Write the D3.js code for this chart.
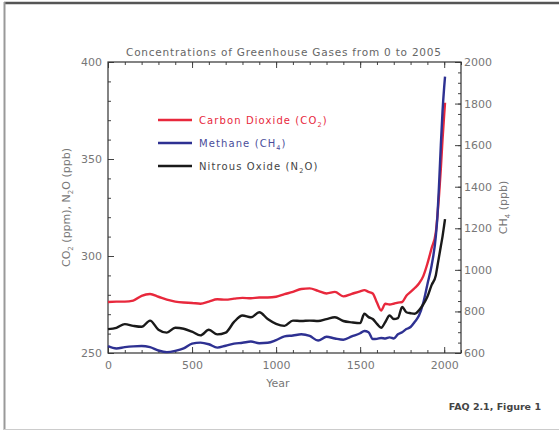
<!DOCTYPE html>
<html>
<head>
<meta charset="utf-8">
<script src="https://cdn.jsdelivr.net/npm/d3@7"></script>
<style>
  body { margin: 0; background: #fff; }
  svg text { font-family: "DejaVu Sans", sans-serif; }
</style>
</head>
<body>
<svg id="chart" width="559" height="431"></svg>
<script>
// values
const years = [0, 50, 100, 150, 200, 250, 300, 350, 400, 450, 500, 550, 600, 650, 700, 750,
  800, 850, 900, 950, 1000, 1050, 1100, 1150, 1200, 1250, 1300, 1350, 1400, 1450, 1500,
  1525, 1550, 1575, 1600, 1625, 1650, 1675, 1700, 1725, 1750, 1775, 1800, 1825, 1850,
  1875, 1900, 1925, 1950, 1960, 1970, 1980, 1990, 2000, 2005];

const co2 = [276.3, 276.5, 276.5, 277, 279.5, 280.4, 279, 277.5, 276.5, 276, 275.8, 275.4,
  276.5, 277.7, 277.5, 278, 278.4, 278.2, 278.6, 278.6, 279, 280.3, 281.5, 283, 283.3, 282,
  280.7, 281.5, 279.2, 280.5, 281.8, 282.4, 281.5, 280.7, 276, 271.9, 275.4, 275, 275.4, 276,
  276.3, 279.5, 281.5, 283.5, 285.8, 289.5, 296, 304, 312, 321, 332, 345, 360, 373, 379];

const ch4 = [633, 622, 628, 632, 634, 628, 612, 604, 610, 622, 645, 650, 642, 626, 635, 645,
  649, 655, 647, 649, 662, 680, 684, 690, 682, 660, 678, 670, 664, 680, 695, 706, 700, 667,
  668, 672, 670, 675, 670, 690, 700, 715, 725, 750, 780, 840, 930, 1020, 1160, 1260, 1420,
  1600, 1760, 1880, 1930];

const n2o = [262.3, 263, 264.9, 264, 263.5, 266.7, 262, 260.5, 263, 262.5, 261, 259.1, 262,
  259.6, 260.5, 266, 269.3, 268.4, 271, 267.5, 265, 264, 266.7, 266.5, 266.7, 266.5, 267.5,
  268.4, 266.5, 265.8, 265.4, 270.2, 268.5, 267.5, 265, 263, 266, 269.3, 267.5, 268, 273.7,
  271, 270.5, 270.2, 272, 275, 279, 285, 290, 295, 300, 305, 310, 316, 319];

const xTicks = [0, 500, 1000, 1500, 2000];
const leftTicks = [250, 300, 350, 400];
const rightTicks = [600, 800, 1000, 1200, 1400, 1600, 1800, 2000];

const svg = d3.select('#chart');
const pLeft = 108, pRight = 461, pTop = 62, pBottom = 353;

// page frame
svg.append('line').attr('x1', 4).attr('x2', 559).attr('y1', 3).attr('y2', 3)
  .attr('stroke', '#555').attr('stroke-width', 2.5);
svg.append('line').attr('x1', 4.5).attr('x2', 4.5).attr('y1', 2).attr('y2', 430)
  .attr('stroke', '#999').attr('stroke-width', 2);
svg.append('line').attr('x1', 4).attr('x2', 559).attr('y1', 429.5).attr('y2', 429.5)
  .attr('stroke', '#ccc').attr('stroke-width', 1);

const x = d3.scaleLinear().domain([0, 2100]).range([pLeft, pRight]);
const yL = d3.scaleLinear().domain([250, 400]).range([pBottom, pTop]);
const yR = d3.scaleLinear().domain([600, 2000]).range([pBottom, pTop]);

const tickColor = '#444';
const labelColor = '#777';
const fmt = d3.format('d');

function styleAxis(g) {
  g.select('.domain').remove();
  g.selectAll('line').attr('stroke', tickColor);
  g.selectAll('text').attr('fill', labelColor).attr('font-size', 11);
}

// major + minor ticks
svg.append('g').attr('transform', `translate(0,${pBottom})`)
  .call(d3.axisBottom(x).tickValues(xTicks).tickSize(-6).tickPadding(8).tickFormat(fmt))
  .call(styleAxis);
svg.append('g').attr('transform', `translate(0,${pBottom})`)
  .call(d3.axisBottom(x).tickValues(d3.range(0, 2101, 100)).tickSize(-3).tickFormat(''))
  .call(styleAxis);
svg.append('g').attr('transform', `translate(0,${pTop})`)
  .call(d3.axisTop(x).tickValues(xTicks).tickSize(-6).tickFormat(''))
  .call(styleAxis);
svg.append('g').attr('transform', `translate(0,${pTop})`)
  .call(d3.axisTop(x).tickValues(d3.range(0, 2101, 100)).tickSize(-3).tickFormat(''))
  .call(styleAxis);

svg.append('g').attr('transform', `translate(${pLeft},0)`)
  .call(d3.axisLeft(yL).tickValues(leftTicks).tickSize(-6).tickPadding(6).tickFormat(fmt))
  .call(styleAxis);
svg.append('g').attr('transform', `translate(${pLeft},0)`)
  .call(d3.axisLeft(yL).tickValues(d3.range(250, 401, 10)).tickSize(-3).tickFormat(''))
  .call(styleAxis);

svg.append('g').attr('transform', `translate(${pRight},0)`)
  .call(d3.axisRight(yR).tickValues(rightTicks).tickSize(-6).tickPadding(3).tickFormat(fmt))
  .call(styleAxis);
svg.append('g').attr('transform', `translate(${pRight},0)`)
  .call(d3.axisRight(yR).tickValues(d3.range(600, 2001, 50)).tickSize(-3).tickFormat(''))
  .call(styleAxis);

// plot box
svg.append('rect').attr('x', pLeft).attr('y', pTop)
  .attr('width', pRight - pLeft).attr('height', pBottom - pTop)
  .attr('fill', 'none').attr('stroke', '#333').attr('stroke-width', 1.2);

// series
const series = [
  { values: co2, y: yL, color: '#e8283c' },
  { values: ch4, y: yR, color: '#2e3192' },
  { values: n2o, y: yL, color: '#1a1a1a' }
];
series.forEach(s => {
  const line = d3.line()
    .x((d, i) => x(years[i]))
    .y(d => s.y(d))
    .curve(d3.curveMonotoneX);
  svg.append('path')
    .attr('d', line(s.values))
    .attr('fill', 'none')
    .attr('stroke', s.color)
    .attr('stroke-width', 2.4)
    .attr('stroke-linejoin', 'round');
});

// title
svg.append('text').attr('x', (pLeft + pRight) / 2 - 1).attr('y', 56)
  .attr('text-anchor', 'middle').attr('font-size', 10.5).attr('fill', '#666')
  .attr('textLength', 315).attr('lengthAdjust', 'spacing')
  .text('Concentrations of Greenhouse Gases from 0 to 2005');

// axis titles
svg.append('text').attr('x', (pLeft + 444) / 2 + 2).attr('y', 387)
  .attr('text-anchor', 'middle').attr('font-size', 11).attr('fill', labelColor)
  .text('Year');

function subText(sel, parts, small) {
  parts.forEach(p => {
    const t = sel.append('tspan').text(p.t);
    if (p.sub) t.attr('font-size', small).attr('dy', 3);
    else if (p.after) t.attr('dy', -3);
  });
}

const yLab = svg.append('text')
  .attr('transform', `translate(70,${(pTop + pBottom) / 2}) rotate(-90)`)
  .attr('text-anchor', 'middle').attr('font-size', 11).attr('fill', labelColor);
subText(yLab, [{ t: 'CO' }, { t: '2', sub: true }, { t: ' (ppm), N', after: true },
  { t: '2', sub: true }, { t: 'O (ppb)', after: true }], 7);

const yRLab = svg.append('text')
  .attr('transform', `translate(507,${(pTop + pBottom) / 2}) rotate(-90)`)
  .attr('text-anchor', 'middle').attr('font-size', 11).attr('fill', labelColor);
subText(yRLab, [{ t: 'CH' }, { t: '4', sub: true }, { t: ' (ppb)', after: true }], 7);

// legend
const legend = [
  { parts: [{ t: 'Carbon Dioxide (CO' }, { t: '2', sub: true }, { t: ')', after: true }], color: '#e8283c', text: '#e8283c' },
  { parts: [{ t: 'Methane (CH' }, { t: '4', sub: true }, { t: ')', after: true }], color: '#2e3192', text: '#4a4d9a' },
  { parts: [{ t: 'Nitrous Oxide (N' }, { t: '2', sub: true }, { t: 'O)', after: true }], color: '#1a1a1a', text: '#444' }
];
legend.forEach((l, i) => {
  const ly = 120 + i * 23;
  svg.append('line').attr('x1', 158).attr('x2', 192).attr('y1', ly).attr('y2', ly)
    .attr('stroke', l.color).attr('stroke-width', 2.6);
  const t = svg.append('text').attr('x', 199).attr('y', ly + 4)
    .attr('font-size', 10).attr('letter-spacing', 1.1).attr('fill', l.text);
  subText(t, l.parts, 6.5);
});

// footer
svg.append('text').attr('x', 541).attr('y', 410).attr('text-anchor', 'end')
  .attr('font-family', '"DejaVu Sans Mono", monospace').attr('font-weight', 'bold')
  .attr('font-size', 9.5).attr('fill', '#444')
  .text('FAQ 2.1, Figure 1');
</script>
</body>
</html>
